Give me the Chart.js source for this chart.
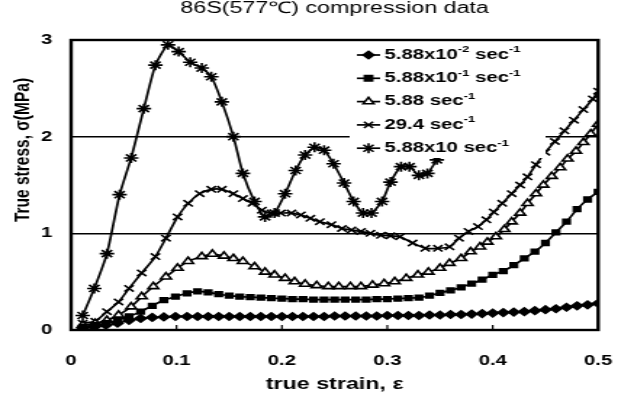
<!DOCTYPE html>
<html>
<head>
<meta charset="utf-8">
<script src="https://cdn.jsdelivr.net/npm/chart.js@4/dist/chart.umd.min.js"></script>
<style>
  html, body { margin: 0; padding: 0; background: #fff; overflow: hidden; }
  /* the source figure is stretched sideways, so the canvas is too */
  #wrap { width: 437px; height: 409px; transform: scaleX(1.4508); transform-origin: 0 0; }
</style>
</head>
<body>
<div id="wrap"><canvas id="chart" width="437" height="409"></canvas></div>
<script>
const chartTitle = '86S(577\u2103) compression data';
const xTitle = 'true strain, \u03b5';
const yTitle = 'True stress, \u03c3(MPa)';
const xTicks = [0, 0.1, 0.2, 0.3, 0.4, 0.5];
const yTicks = [0, 1, 2, 3];

// legend labels, {..} = superscript
const seriesLabels = [
  '5.88x10{-2} sec{-1}',
  '5.88x10{-1} sec{-1}',
  '5.88 sec{-1}',
  '29.4 sec{-1}',
  '5.88x10 sec{-1}',
];

const strain1 = [0.011,0.022,0.033,0.044,0.055,0.066,0.077,0.088,0.099,0.11,0.12,0.13,0.14,0.15,0.16,0.17,0.18,0.19,0.2,0.21,0.22,0.23,0.24,0.25,0.26,0.27,0.28,0.29,0.3,0.31,0.32,0.33,0.34,0.35,0.36,0.37,0.38,0.39,0.4,0.41,0.42,0.43,0.44,0.45,0.46,0.47,0.48,0.49,0.5];
const stress1 = [0.02,0.03,0.05,0.07,0.10,0.12,0.13,0.135,0.14,0.14,0.14,0.14,0.14,0.14,0.14,0.14,0.14,0.14,0.14,0.14,0.14,0.14,0.14,0.145,0.145,0.145,0.145,0.145,0.15,0.15,0.15,0.15,0.155,0.155,0.16,0.16,0.165,0.17,0.175,0.18,0.185,0.19,0.2,0.21,0.22,0.235,0.25,0.26,0.275];

const strain2 = [0.011,0.022,0.033,0.044,0.055,0.066,0.077,0.088,0.099,0.11,0.12,0.13,0.14,0.15,0.16,0.17,0.18,0.19,0.2,0.21,0.22,0.23,0.24,0.25,0.26,0.27,0.28,0.29,0.3,0.31,0.32,0.33,0.34,0.35,0.36,0.37,0.38,0.39,0.4,0.41,0.42,0.43,0.44,0.45,0.46,0.47,0.48,0.49,0.5];
const stress2 = [0.03,0.05,0.07,0.10,0.14,0.19,0.25,0.31,0.345,0.38,0.40,0.39,0.37,0.355,0.345,0.34,0.335,0.33,0.325,0.32,0.32,0.315,0.315,0.315,0.315,0.315,0.315,0.32,0.32,0.325,0.33,0.335,0.355,0.385,0.41,0.44,0.48,0.52,0.57,0.61,0.67,0.74,0.81,0.90,1.01,1.12,1.25,1.35,1.43];

const strain3 = [0.011,0.023,0.034,0.045,0.057,0.067,0.078,0.09,0.101,0.111,0.124,0.134,0.145,0.154,0.163,0.174,0.184,0.193,0.203,0.212,0.222,0.233,0.244,0.254,0.265,0.275,0.286,0.297,0.307,0.318,0.329,0.339,0.35,0.359,0.37,0.379,0.388,0.395,0.403,0.411,0.418,0.426,0.433,0.441,0.448,0.456,0.464,0.471,0.479,0.486,0.493,0.5];
const stress3 = [0.05,0.07,0.10,0.155,0.24,0.345,0.45,0.55,0.64,0.71,0.76,0.785,0.765,0.74,0.71,0.655,0.60,0.57,0.535,0.50,0.475,0.46,0.45,0.45,0.45,0.45,0.465,0.48,0.50,0.535,0.57,0.60,0.64,0.69,0.74,0.81,0.86,0.91,0.965,1.04,1.12,1.21,1.31,1.41,1.50,1.59,1.68,1.77,1.85,1.94,2.03,2.13];

const strain4 = [0.011,0.023,0.034,0.045,0.055,0.067,0.08,0.09,0.101,0.111,0.122,0.133,0.143,0.154,0.163,0.172,0.181,0.19,0.199,0.209,0.218,0.227,0.236,0.247,0.257,0.266,0.275,0.284,0.294,0.303,0.312,0.324,0.336,0.348,0.359,0.368,0.377,0.386,0.394,0.401,0.409,0.418,0.426,0.433,0.441,0.45,0.459,0.468,0.477,0.486,0.495,0.5];
const stress4 = [0.07,0.09,0.19,0.29,0.43,0.59,0.76,0.95,1.17,1.31,1.41,1.455,1.455,1.41,1.36,1.31,1.24,1.21,1.21,1.21,1.19,1.155,1.12,1.09,1.05,1.035,1.02,1.0,0.98,0.975,0.965,0.90,0.845,0.845,0.86,0.95,1.02,1.07,1.14,1.22,1.31,1.41,1.50,1.585,1.71,1.84,1.95,2.06,2.17,2.28,2.39,2.47];

const strain5 = [0.011,0.022,0.034,0.046,0.057,0.069,0.08,0.092,0.102,0.113,0.124,0.133,0.143,0.154,0.163,0.174,0.184,0.193,0.203,0.213,0.222,0.231,0.24,0.249,0.259,0.268,0.277,0.285,0.295,0.303,0.313,0.321,0.33,0.338,0.347];
const stress5 = [0.15,0.43,0.79,1.40,1.78,2.29,2.74,2.95,2.88,2.77,2.71,2.62,2.36,2.00,1.62,1.33,1.17,1.21,1.41,1.65,1.81,1.89,1.86,1.72,1.52,1.33,1.21,1.21,1.33,1.53,1.69,1.69,1.60,1.62,1.76];

const FONT = '"Liberation Sans", Arial, sans-serif';

function pts(xs, ys) {
  return xs.map((x, i) => ({ x: x, y: ys[i] }));
}

const markers = [
  { pointStyle: 'rectRot', radius: 3.7, fill: '#000' },
  { pointStyle: 'rect', radius: 3.3, fill: '#000' },
  { pointStyle: 'triangle', radius: 4.2, fill: '#fff' },
  { pointStyle: 'crossRot', radius: 4.5, fill: '#000' },
  { pointStyle: 'star', radius: 5, fill: '#000' },
];

const allData = [
  pts(strain1, stress1),
  pts(strain2, stress2),
  pts(strain3, stress3),
  pts(strain4, stress4),
  pts(strain5, stress5),
];

const datasets = allData.map((d, i) => ({
  label: seriesLabels[i].replace(/\{([^}]*)\}/g, '^$1'),
  data: d,
  borderColor: '#000',
  borderWidth: 1.7,
  pointStyle: markers[i].pointStyle,
  pointRadius: markers[i].radius,
  pointBorderWidth: 1.6,
  pointBackgroundColor: markers[i].fill,
  pointBorderColor: '#000',
  tension: 0.2,
  fill: false,
}));

function drawMarker(ctx, style, r, fill, x, y) {
  ctx.save();
  ctx.lineWidth = 1.6;
  ctx.strokeStyle = '#000';
  ctx.fillStyle = fill;
  ctx.beginPath();
  if (style === 'rectRot') {
    ctx.moveTo(x, y - r); ctx.lineTo(x + r, y); ctx.lineTo(x, y + r); ctx.lineTo(x - r, y); ctx.closePath();
    ctx.fill(); ctx.stroke();
  } else if (style === 'rect') {
    ctx.rect(x - r * 0.8, y - r * 0.8, r * 1.6, r * 1.6);
    ctx.fill(); ctx.stroke();
  } else if (style === 'triangle') {
    ctx.moveTo(x, y - r); ctx.lineTo(x + r * 0.87, y + r * 0.5); ctx.lineTo(x - r * 0.87, y + r * 0.5); ctx.closePath();
    ctx.fill(); ctx.stroke();
  } else {
    const d = r * 0.7;
    ctx.moveTo(x - d, y - d); ctx.lineTo(x + d, y + d);
    ctx.moveTo(x + d, y - d); ctx.lineTo(x - d, y + d);
    if (style === 'star') { ctx.moveTo(x, y - r); ctx.lineTo(x, y + r); }
    ctx.stroke();
  }
  ctx.restore();
}

const framePlugin = {
  id: 'frame',
  afterDatasetsDraw(chart) {
    const { ctx, chartArea: a, scales } = chart;
    ctx.save();
    // inner ticks on x axis
    ctx.strokeStyle = '#000';
    ctx.lineWidth = 1.2;
    xTicks.slice(1, -1).forEach(v => {
      const px = scales.x.getPixelForValue(v);
      ctx.beginPath();
      ctx.moveTo(px, a.bottom);
      ctx.lineTo(px, a.bottom - 5);
      ctx.stroke();
    });

    // legend box
    ctx.fillStyle = '#fff';
    ctx.fillRect(241, 43, 135, 115);
    seriesLabels.forEach((lab, i) => {
      const y = 55 + i * 23.3;
      ctx.strokeStyle = '#000';
      ctx.lineWidth = 1.7;
      ctx.beginPath();
      ctx.moveTo(246, y);
      ctx.lineTo(262, y);
      ctx.stroke();
      drawMarker(ctx, markers[i].pointStyle, markers[i].radius, markers[i].fill, 254, y);
      // text with superscripts
      let x = 265;
      ctx.fillStyle = '#000';
      ctx.textBaseline = 'middle';
      ctx.textAlign = 'left';
      lab.split(/(\{[^}]*\})/).forEach(part => {
        if (!part) return;
        if (part[0] === '{') {
          const s = part.slice(1, -1);
          ctx.font = 'bold 9px ' + FONT;
          ctx.fillText(s, x, y - 5);
          x += ctx.measureText(s).width;
        } else {
          ctx.font = 'bold 14px ' + FONT;
          ctx.fillText(part, x, y);
          x += ctx.measureText(part).width;
        }
      });
    });

    // frame
    ctx.strokeStyle = '#000';
    ctx.lineWidth = 2.4;
    ctx.strokeRect(a.left, a.top, a.right - a.left, a.bottom - a.top);

    // chart title
    ctx.fillStyle = '#000';
    ctx.font = '16px ' + FONT;
    ctx.textAlign = 'center';
    ctx.textBaseline = 'middle';
    ctx.fillText(chartTitle, (a.left + a.right) / 2, 9);

    // y axis title
    ctx.translate(16, 150);
    ctx.rotate(-Math.PI / 2);
    ctx.font = 'bold 15.5px ' + FONT;
    ctx.fillText(yTitle, 0, 0);
    ctx.restore();
  }
};

new Chart(document.getElementById('chart'), {
  type: 'line',
  data: { datasets: datasets },
  options: {
    responsive: false,
    animation: false,
    devicePixelRatio: 1,
    layout: { padding: { top: 40, right: 9.7, left: 0, bottom: 0 } },
    plugins: {
      legend: { display: false },
      title: { display: false },
      tooltip: { enabled: false },
    },
    scales: {
      x: {
        type: 'linear',
        min: 0,
        max: 0.5,
        afterFit: s => { s.height = 79; },
        afterBuildTicks: s => { s.ticks = xTicks.map(v => ({ value: v })); },
        ticks: {
          color: '#000',
          padding: 15,
          maxRotation: 0,
          font: { family: FONT, size: 14, weight: 'bold' },
          callback: v => String(v),
        },
        grid: { display: false },
        border: { display: false },
        title: {
          display: true,
          text: xTitle,
          color: '#000',
          padding: { top: 0, bottom: 15 },
          font: { family: FONT, size: 16, weight: 'bold' },
        },
      },
      y: {
        min: 0,
        max: 3,
        afterFit: s => { s.width = 49; },
        afterBuildTicks: s => { s.ticks = yTicks.map(v => ({ value: v })); },
        ticks: {
          color: '#000',
          padding: 13,
          font: { family: FONT, size: 14, weight: 'bold' },
        },
        grid: {
          drawTicks: false,
          color: c => (c.tick && (c.tick.value === 1 || c.tick.value === 2)) ? '#000' : 'rgba(0,0,0,0)',
          lineWidth: 1.5,
        },
        border: { display: false },
      },
    },
  },
  plugins: [framePlugin],
});
</script>
</body>
</html>
